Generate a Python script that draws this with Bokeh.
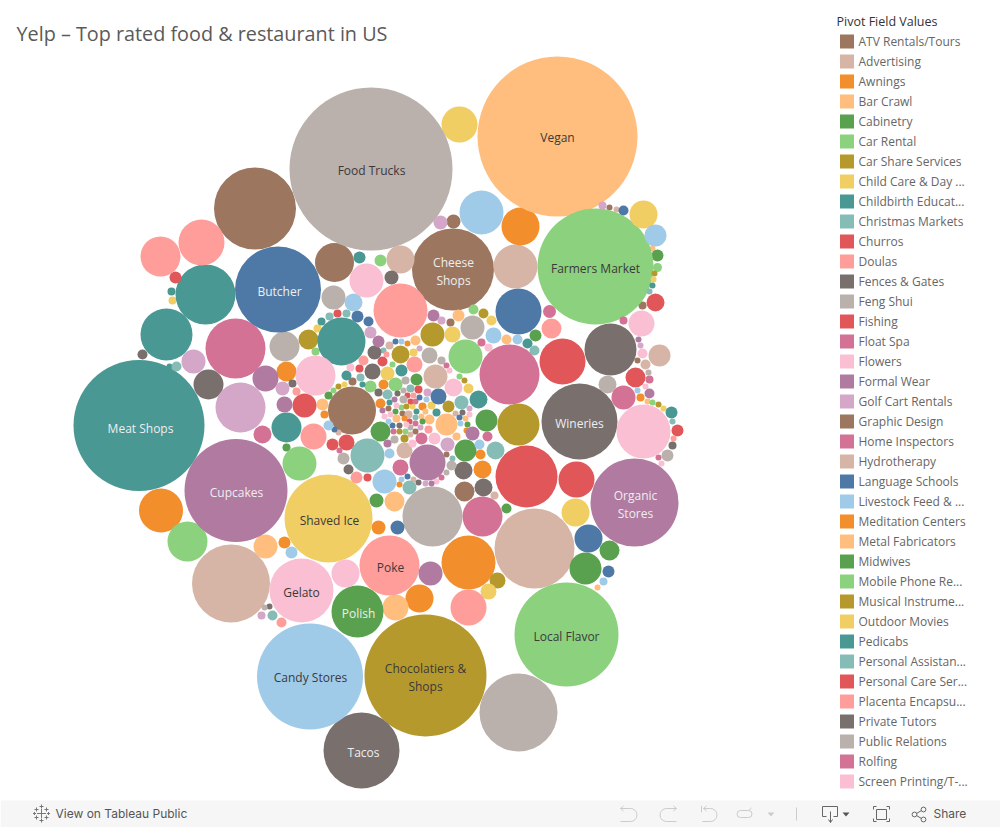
from math import pi
from bokeh.plotting import figure
from bokeh.models import Range1d
from bokeh.core.properties import value
from bokeh.embed import file_html
from bokeh.resources import INLINE

TITLE = "Yelp – Top rated food & restaurant in US"
LEGEND_TITLE = "Pivot Field Values"

PALETTE = {
    "brown": "#9D7660", "ltbrown": "#D7B5A6", "orange": "#F28E2B", "ltorange": "#FFBE7D",
    "green": "#59A14F", "ltgreen": "#8CD17D", "olive": "#B6992D", "yellow": "#F1CE63",
    "teal": "#499894", "ltteal": "#86BCB6", "red": "#E15759", "pink": "#FF9D9A",
    "gray": "#79706E", "ltgray": "#BAB0AC", "rose": "#D37295", "ltpink": "#FABFD2",
    "purple": "#B07AA1", "ltpurple": "#D4A6C8", "blue": "#4E79A7", "ltblue": "#A0CBE8",
}

legend_names = ["ATV Rentals/Tours", "Advertising", "Awnings", "Bar Crawl", "Cabinetry", "Car Rental",
                "Car Share Services", "Child Care & Day ...", "Childbirth Educat...", "Christmas Markets",
                "Churros", "Doulas", "Fences & Gates", "Feng Shui", "Fishing", "Float Spa", "Flowers",
                "Formal Wear", "Golf Cart Rentals", "Graphic Design", "Home Inspectors", "Hydrotherapy",
                "Language Schools", "Livestock Feed & ...", "Meditation Centers", "Metal Fabricators",
                "Midwives", "Mobile Phone Re...", "Musical Instrume...", "Outdoor Movies", "Pedicabs",
                "Personal Assistan...", "Personal Care Ser...", "Placenta Encapsu...", "Private Tutors",
                "Public Relations", "Rolfing", "Screen Printing/T-..."]
legend_keys = ["brown", "ltbrown", "orange", "ltorange", "green", "ltgreen", "olive", "yellow", "teal",
               "ltteal", "red", "pink", "gray", "ltgray", "red", "rose", "ltpink", "purple", "ltpurple",
               "brown", "rose", "ltbrown", "blue", "ltblue", "orange", "ltorange", "green", "ltgreen",
               "olive", "yellow", "teal", "ltteal", "red", "pink", "gray", "ltgray", "rose", "ltpink"]

# bubbles: (x, y, radius)
brown = [(254.5,208,41),(334,262,19.5),(452.5,269,41),(351.5,410,24),(453,221,7),(609,207,3),(642,305,4),(637,360,3),
         (450,322,4),(352,381,4),(464,491,10),(446,454,3),(388,408,3),(402,413,3),(415,431,3)]
ltbrown = [(515,266,22),(400,259,14),(659,355,11),(645,364,5),(616,209,3),(534,548,40),(230.5,583,39),
           (435,376,12),(389,345,4),(338,432,3),(404,450,8),(413,479,3),(494,495,4),(455,413,3),(408,414,4),(410,434,3)]
orange = [(520,226,19),(160.5,510,22),(468,562,27),(419,598,14),(286,371,10),(284,542,6),(640,397,4),(407,343,3),
          (383,384,5),(324,414,4),(399,484,3),(482,469,9),(480,454,5),(380,403,5),(422,406,4),(404,418,3),(466,430,3),
          (378,527,7)]
ltorange = [(557,136,80),(265,546,12),(395,607,13),(652,248,3),(647,401,3),(597,587,3),(415,340,5),(458,315,6),
            (506,339,5),(322,404,6),(394,501,10),(429,419,5),(446,424,11),(456,436,4),(465,418,3),(425,411,3),(421,416,3),(396,418,4)]
green = [(357,611,26),(585,568,16),(609,550,10),(657,255,6),(535,335,6),(416,379,6),(328,395,4),
         (286,447,4),(380,431,10),(376,500,7),(465,450,11),(486,420,11),(506,508,5),(467,424,3),(422,421,3),(395,411,3)]
ltgreen = [(595,266,58),(566,634,52),(187,541,20),(299,463,17),(465,356,17),(657,267,4.5),(652,402,3),(380,260,6),
           (473,309,5),(315,351,4),(392,364,3),(395,384,7),(370,386,6),(333,390,3),(459,376,3),(405,431,3),(401,407,3)]
olive = [(425,675,61),(518,424,21),(497,580,8),(308,339,10),(400,354,9),(432,334,12),(483,313,5),(654,273,3),
         (658,404,3),(338,386,3),(464,380,3),(448,406,6),(404,438,4),(399,431,3),(406,406,3)]
yellow = [(328,518,44),(459,124,18),(575,512,14),(643,214,14),(488,591,8),(653,279,3),(663,408,3),(452,334,8),
          (491,320,5),(317,328,4),(413,352,4),(387,373,7),(468,388,5),(344,384,3),(412,406,3),(431,405,4),(172,300,4)]
teal = [(138.5,425,65.5),(166,334,26),(205,294,30),(341,341,24),(286,427,15),(359,257,6),(652,285,3),(671,412,6),
        (171,291,4),(169,366,3),(321,321,4),(527,343,5),(401,370,6),(346,375,5),(362,384,3),(478,399,9),(389,402,3),
        (436,412,4),(416,411,3)]
ltteal = [(367,455,17),(495,450,9),(649,291,3),(672,421,3),(176,366,5),(329,316,4),(346,313,4),(383,350,3),
          (534,350,5),(360,377,4),(387,394,5),(410,388,4),(461,402,7),(415,417,3),(409,487,7),(452,458,3),(272,615,5)]
red = [(526,476,31),(562,361,23),(576,479,18),(304,405,12),(655,302,9),(635,377,10),(677,430,6),(175,277,6),
       (337,313,4),(382,361,5),(359,368,4),(418,389,4),(407,395,3),(410,401,3),(409,421,3),(332,444,6),(346,442,8),(367,477,4)]
pink = [(400,310,27),(201,242,23),(160,256,20),(389,565,30),(468,607,18),(313,436,13),(551,328,10),(673,438,3),
        (414,364,8),(363,360,5),(386,354,3),(296,391,4),(413,395,3),(428,429,4),(356,477,6),(281,622,5)]
gray = [(361,750,38),(579,421,38),(610,349,26),(208,384,15),(142,354,5),(391,277,7),(672,445,4),(374,352,7),
        (372,371,8),(292,383,4),(378,392,4),(397,393,3),(399,425,3),(462,412,3),(348,469,5),(463,470,9),(483,487,9),
        (418,482,3),(269,606,3)]
ltgray = [(370.5,168.5,81.5),(518,712,39),(432,516,30),(284,346,15),(333,297,12),(607,384,9),(648,372,3),(667,455,6),
          (472,327,12),(429,355,8),(441,360,4),(405,380,4),(403,390,3),(403,399,4),(394,439,4),(410,427,3),(343,458,6),
          (446,472,3),(451,465,5),(264,607,3)]
rose = [(235,348,30),(509,374,30),(482,516,20),(623,397,12),(262,434,9),(549,311,6.5),(623,320,4),(649,379,4),
        (658,457,3),(481,342,4),(446,365,3),(393,431,3),(415,401,3),(415,423,3),(339,450,3),(400,467,8),(421,438,6),
        (441,477,3),(487,436,5)]
ltpink = [(301,590,32),(643,431,27),(366,280,17),(315,375,20),(345,573,14),(641,323,13),(642,353,5),(645,386,3),
          (661,463,3),(453,387,9),(488,347,4),(449,370,3),(350,367,4),(384,416,3),(390,414,3),(396,405,3),(406,424,3),
          (412,443,4),(434,438,6),(436,481,3),(469,414,3)]
purple = [(235.5,490,51.5),(634,502,44),(427,462,18),(430,573,12),(265,378,13),(284,404,8),(378,341,6),(433,315,6),
          (638,339,3),(649,393,5),(394,399,3),(382,410,3),(387,443,4),(472,433,7),(431,483,3)]
ltpurple = [(240,407,25),(193,361,12),(370,332,6),(282,388,7),(440,222,7),(602,205,4),(640,345,3),(441,320,4),
            (419,348,3),(427,392,4),(420,427,3),(447,444,7),(425,483,3),(469,408,3),(261,615,4)]
blue = [(277.5,289,43),(518,311,23),(588,538,14),(623,210,5),(608,571,6),(357,316,6),(368,321,5),(395,341,3),
        (438,396,8),(419,397,3),(334,429,3),(392,425,3),(407,476,3),(459,417,3),(397,527,7)]
ltblue = [(309.5,676,53),(481,212,22),(655,235,11),(353,302,9),(493,335,8),(517,339,5),(401,341,3),(637,390,3),
          (603,581,4),(291,552,6),(328,425,5),(426,399,3),(388,421,3),(389,453,5),(384,481,12),(401,479,3),(479,444,5),(460,423,3)]

bubble_groups = {"brown": brown, "ltbrown": ltbrown, "orange": orange, "ltorange": ltorange, "green": green,
                 "ltgreen": ltgreen, "olive": olive, "yellow": yellow, "teal": teal, "ltteal": ltteal, "red": red,
                 "pink": pink, "gray": gray, "ltgray": ltgray, "rose": rose, "ltpink": ltpink, "purple": purple,
                 "ltpurple": ltpurple, "blue": blue, "ltblue": ltblue}

label_text = ["Vegan", "Food Trucks", "Cheese", "Shops", "Farmers Market", "Butcher", "Meat Shops", "Wineries",
              "Cupcakes", "Organic", "Stores", "Shaved Ice", "Poke", "Gelato", "Polish", "Local Flavor",
              "Candy Stores", "Chocolatiers &", "Shops", "Tacos"]
label_x = [557, 371, 453, 453, 595, 279, 140, 579, 236, 635, 635, 329, 390, 301, 358, 566, 310, 425, 425, 363]
label_y = [137, 170, 262, 280, 268, 291, 428, 423, 492, 495, 513, 520, 567, 592, 613, 636, 677, 668, 686, 752]
label_light = [0, 0, 1, 1, 0, 1, 1, 1, 1, 1, 1, 0, 0, 0, 1, 0, 0, 0, 0, 1]

W, H = 1000, 827
p = figure(width=W, height=H, x_range=Range1d(0, W), y_range=Range1d(H, 0),
           output_backend="svg", toolbar_location=None, min_border=0, outline_line_color=None)
p.axis.visible = False
p.grid.visible = False
p.background_fill_color = "white"
p.border_fill_color = "white"

FONT = "Open Sans"

for key, items in bubble_groups.items():
    p.circle(x=[b[0] for b in items], y=[b[1] for b in items], radius=[b[2] for b in items],
             fill_color=PALETTE[key], line_color=None)

p.text(x=[16], y=[33], text=[TITLE], text_font=value(FONT), text_font_size="19.8px", text_color="#5a5a5a",
       text_align="left", text_baseline="middle")
p.text(x=label_x, y=label_y, text=label_text, text_font=value(FONT), text_font_size="12px",
       text_color=["#eeeeee" if v else "#3a3a3a" for v in label_light], text_align="center", text_baseline="middle")

# legend
p.text(x=[836], y=[21], text=[LEGEND_TITLE], text_font=value(FONT), text_font_size="12.5px",
       text_color="#333333", text_align="left", text_baseline="middle")
legend_y = [41 + 20 * i for i in range(len(legend_names))]
p.rect(x=[846.5] * len(legend_y), y=legend_y, width=14, height=14,
       fill_color=[PALETTE[k] for k in legend_keys], line_color=None)
p.text(x=[858] * len(legend_y), y=legend_y, text=legend_names, text_font=value(FONT), text_font_size="12px",
       text_color="#666666", text_align="left", text_baseline="middle")

# bottom bar
p.quad(left=[0], right=[1000], top=[800], bottom=[827], fill_color="#f6f6f6", line_color=None)
p.text(x=[55], y=[813], text=["View on Tableau Public"], text_font=value("Inter"), text_font_size="12px",
       text_color="#555555", text_align="left", text_baseline="middle")
p.text(x=[933], y=[813], text=["Share"], text_font=value("Inter"), text_font_size="12px",
       text_color="#555555", text_align="left", text_baseline="middle")

# bar icons: undo, redo, revert, refresh (disabled, light gray)
LIGHT, DARK = "#cccccc", "#666666"
p.arc(x=[630, 666, 710], y=[814.5] * 3, radius=[6.5] * 3, start_angle=[-pi / 2, pi / 2, -pi / 2],
      end_angle=[pi / 2, 3 * pi / 2, pi / 2], line_color=LIGHT)
p.arc(x=[740, 748], y=[813.5, 813.5], radius=[3.5, 3.5], start_angle=[pi / 2, -pi / 2],
      end_angle=[3 * pi / 2, pi / 2], line_color=LIGHT)
p.multi_line(xs=[[620, 630], [620, 623], [620, 623], [620, 630],
                 [676, 666], [676, 673], [676, 673], [676, 666],
                 [703, 710], [703, 706], [703, 706], [702, 710], [701, 701],
                 [740, 748], [740, 748], [748, 751], [796, 796]],
             ys=[[808, 808], [808, 805.5], [808, 810.5], [821, 821],
                 [808, 808], [808, 805.5], [808, 810.5], [821, 821],
                 [808, 808], [808, 805.5], [808, 810.5], [821, 821], [805.5, 812],
                 [810, 810], [817, 817], [810, 807.5], [807, 820]],
             line_color=LIGHT, line_width=1)
p.patch(x=[767, 774, 770.5], y=[812, 812, 816], fill_color=LIGHT, line_color=None)

# download, fullscreen
p.multi_line(xs=[[826, 822, 822, 837, 837, 833], [830, 830], [828, 830, 832], [876, 886, 886, 876, 876],
                 [873, 873, 876], [889, 889, 886], [873, 873, 876], [889, 889, 886]],
             ys=[[816, 816, 806, 806, 816, 816], [811, 822], [819, 822, 819], [809, 809, 819, 819, 809],
                 [809, 806, 806], [809, 806, 806], [818, 821, 821], [818, 821, 821]],
             line_color=DARK, line_width=1)
p.patch(x=[842, 849, 845.5], y=[812, 812, 816], fill_color="#555555", line_color=None)

# share
p.circle(x=[914, 923, 923], y=[814, 809, 819], radius=[2.4, 2.4, 2.4], fill_color=None, line_color=DARK)
p.multi_line(xs=[[916, 921], [916, 921]], ys=[[813, 810], [815, 818]], line_color=DARK)

# logo
logo_cx = [41, 36, 46, 36, 46, 41, 41, 34, 48]
logo_cy = [813, 809, 809, 817, 817, 806, 820, 813, 813]
logo_arm = [4.5, 2, 2, 2, 2, 2, 2, 1.5, 1.5]
p.multi_line(xs=[[c - a, c + a] for c, a in zip(logo_cx, logo_arm)] + [[c, c] for c in logo_cx],
             ys=[[c, c] for c in logo_cy] + [[c - a, c + a] for c, a in zip(logo_cy, logo_arm)],
             line_color="#777777", line_width=1)

open("out.html", "w").write(file_html(p, INLINE))
